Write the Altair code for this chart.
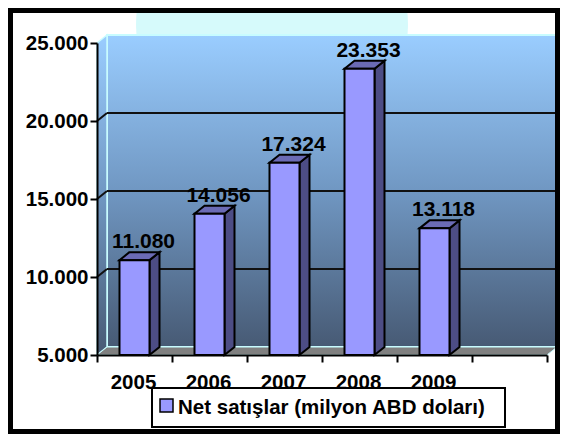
import altair as alt
import pandas as pd

# ---- data ----
years = ["2005", "2006", "2007", "2008", "2009"]
sales = [11080, 14056, 17324, 23353, 13118]
y_ticks = [5000, 10000, 15000, 20000, 25000]
grid_values = [10000, 15000, 20000]
series_name = "Net satışlar (milyon ABD doları)"

# ---- geometry helpers ----
Y_MIN, Y_MAX = 5000, 25000
N_SLOTS = 6
PX_W = 450
PX_H = 312
DX = 10 * N_SLOTS / PX_W            # depth offset in x units (10 px)
DY = 8 * (Y_MAX - Y_MIN) / PX_H     # depth offset in y units (8 px)
BAR_L, BAR_R = 0.3, 0.7

FONT = "Liberation Sans, Arial, Helvetica, sans-serif"
FRONT = "#9999FF"
SIDE = "#4D4D85"
TOP = "#6B6BB5"

xs = alt.Scale(domain=[0, N_SLOTS], range=[0, PX_W], nice=False, zero=False)
ys = alt.Scale(domain=[Y_MIN, Y_MAX], range=[320, 8], nice=False, zero=False)


def fmt(v):
    return f"{v:,}".replace(",", ".")


bars = pd.DataFrame({"year": years, "v": sales, "i": list(range(len(years)))})
bars["x0"] = bars["i"] + BAR_L
bars["x1"] = bars["i"] + BAR_R
bars["xc"] = bars["i"] + 0.5
bars["base"] = Y_MIN
bars["label"] = [fmt(v) for v in sales]

side_rows, top_rows = [], []
for i, (yr, v) in enumerate(zip(years, sales)):
    side_rows.append({"year": yr, "x": i + BAR_R, "top": v, "bot": Y_MIN})
    side_rows.append({"year": yr, "x": i + BAR_R + DX, "top": v + DY, "bot": Y_MIN + DY})
    top_rows.append({"year": yr, "y": v, "xl": i + BAR_L, "xr": i + BAR_R})
    top_rows.append({"year": yr, "y": v + DY, "xl": i + BAR_L + DX, "xr": i + BAR_R + DX})
sides = pd.DataFrame(side_rows)
tops = pd.DataFrame(top_rows)

wall = pd.DataFrame({"x0": [DX], "x1": [N_SLOTS + DX], "y0": [Y_MIN + DY], "y1": [Y_MAX + DY]})
side_wall = pd.DataFrame({"x": [0, DX], "top": [Y_MAX, Y_MAX + DY], "bot": [Y_MIN, Y_MIN + DY]})
floor = pd.DataFrame({
    "x": [0, DX, N_SLOTS, N_SLOTS + DX],
    "top": [Y_MIN, Y_MIN + DY, Y_MIN + DY, Y_MIN + DY],
    "bot": [Y_MIN, Y_MIN, Y_MIN, Y_MIN + DY],
})
grid = pd.DataFrame({"v": grid_values, "vb": [g + DY for g in grid_values],
                     "x0": [DX] * len(grid_values), "x1": [N_SLOTS + DX] * len(grid_values),
                     "s0": [0] * len(grid_values), "s1": [DX] * len(grid_values)})
one = pd.DataFrame({"name": [series_name]})
axis_df = pd.DataFrame({"x": [0, N_SLOTS], "y": [Y_MIN, Y_MAX]})

wall_grad = alt.Gradient(
    gradient="linear",
    stops=[alt.GradientStop(color="#9ACDFF", offset=0),
           alt.GradientStop(color="#7097C2", offset=0.5),
           alt.GradientStop(color="#475A74", offset=1)],
    x1=0, x2=0, y1=0, y2=1,
)


def X(field, **kw):
    return alt.X(field, scale=xs, title=None, **kw)


def Y(field, **kw):
    return alt.Y(field, scale=ys, title=None, **kw)


# ---- layers ----
glow = alt.Chart(one).mark_circle(size=74000, color="#D6FAFB", opacity=1).encode(
    x=alt.value(175), y=alt.value(-10))

# invisible layer that carries the axes
axes = alt.Chart(axis_df).mark_point(opacity=0).encode(
    x=X("x:Q", axis=alt.Axis(values=list(range(N_SLOTS + 1)), labels=False, grid=False,
                             tickSize=7, tickWidth=2, tickColor="black",
                             domainColor="black", domainWidth=2, zindex=1)),
    y=Y("y:Q", axis=alt.Axis(values=y_ticks, grid=False, tickSize=7, tickWidth=2,
                             tickColor="black", domainColor="black", domainWidth=2,
                             labelPadding=2,
                             labelExpr="replace(format(datum.value, ','), ',', '.')",
                             labelFont=FONT, labelFontSize=20.5, labelFontWeight="bold",
                             labelColor="black", zindex=1)),
)

back_wall = alt.Chart(wall).mark_rect(fill=wall_grad, stroke="#C8FCFF", strokeWidth=2).encode(
    x=X("x0:Q"), x2="x1:Q", y=Y("y0:Q"), y2="y1:Q")

side_wall_l = alt.Chart(side_wall).mark_area(fill=wall_grad, stroke="#C8FCFF", strokeWidth=1.5).encode(
    x=X("x:Q"), y=Y("top:Q", stack=None), y2="bot:Q")

floor_l = alt.Chart(floor).mark_area(fill="#808080", stroke="#C8FCFF", strokeWidth=1).encode(
    x=X("x:Q"), y=Y("top:Q", stack=None), y2="bot:Q")

grid_back = alt.Chart(grid).mark_rule(color="#111111", strokeWidth=2).encode(
    x=X("x0:Q"), x2="x1:Q", y=Y("vb:Q"))
grid_side = alt.Chart(grid).mark_rule(color="#111111", strokeWidth=2).encode(
    x=X("s0:Q"), x2="s1:Q", y=Y("v:Q"), y2="vb:Q")

bar_sides = alt.Chart(sides).mark_area(fill=SIDE, stroke="black", strokeWidth=2,
                                       strokeJoin="miter").encode(
    x=X("x:Q"), y=Y("top:Q", stack=None), y2="bot:Q", detail="year:N")

bar_tops = alt.Chart(tops).mark_area(orient="horizontal", fill=TOP, stroke="black",
                                     strokeWidth=2, strokeJoin="miter").encode(
    y=Y("y:Q"), x=X("xl:Q", stack=None), x2="xr:Q", detail="year:N")

bar_fronts = alt.Chart(bars).mark_rect(fill=FRONT, stroke="black", strokeWidth=2).encode(
    x=X("x0:Q"), x2="x1:Q", y=Y("v:Q"), y2="base:Q")

value_labels = alt.Chart(bars).mark_text(
    font=FONT, fontSize=21, fontWeight="bold", color="black",
    baseline="alphabetic", align="center", dx=9, dy=-12,
).encode(x=X("xc:Q"), y=Y("v:Q"), text="label:N")

year_labels = alt.Chart(bars).mark_text(
    font=FONT, fontSize=20.5, fontWeight="bold", color="black",
    baseline="alphabetic", align="center", dx=-1,
).encode(x=X("xc:Q"), y=alt.value(354), text="year:N")

legend_box = alt.Chart(one).mark_rect(fill="white", stroke="black", strokeWidth=2).encode(
    x=alt.value(55), x2=alt.value(408), y=alt.value(353), y2=alt.value(392))
legend_swatch = alt.Chart(one).mark_rect(fill=FRONT, stroke="black", strokeWidth=1.5).encode(
    x=alt.value(63), x2=alt.value(76), y=alt.value(364), y2=alt.value(377))
legend_text = alt.Chart(one).mark_text(
    font=FONT, fontSize=20.5, fontWeight="bold", color="black",
    align="left", baseline="alphabetic",
).encode(x=alt.value(81), y=alt.value(379), text="name:N")

border = alt.Chart(one).mark_rect(fill=None, stroke="black", strokeWidth=5).encode(
    x=alt.value(-86.5), x2=alt.value(460.5), y=alt.value(-24.5), y2=alt.value(396.5))

chart = alt.layer(
    glow, axes, back_wall, side_wall_l, floor_l, grid_back, grid_side,
    bar_sides, bar_tops, bar_fronts, value_labels, year_labels,
    legend_box, legend_swatch, legend_text, border,
).properties(
    width=460, height=320,
    padding={"left": 89, "top": 27, "right": 3, "bottom": 79},
    autosize=alt.AutoSizeParams(type="none"),
    background="white",
).configure_view(stroke=None)

chart.save("out.html", embed_options={"renderer": "svg", "actions": False})
